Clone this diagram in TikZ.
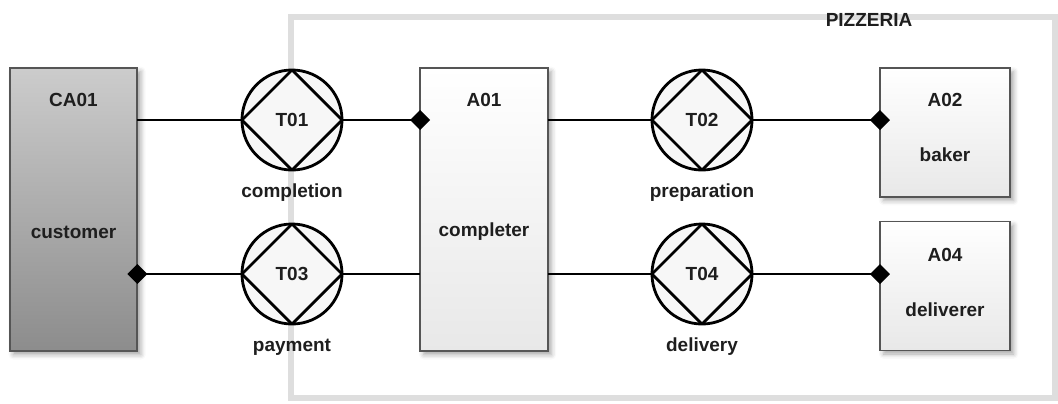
\documentclass[tikz,border=0pt]{standalone}
\usepackage{fontspec}
\setmainfont{Liberation Sans}
\usepackage{tikz}
\usetikzlibrary{arrows.meta,shadows.blur}
\definecolor{boundary}{RGB}{222,222,222}
\definecolor{edge}{RGB}{85,85,85}
\definecolor{ink}{RGB}{30,30,30}

\begin{document}
\begin{tikzpicture}[x=0.025cm, y=-0.025cm,
    font=\fontsize{13.5}{15}\selectfont\bfseries, text=ink,
    actor/.style={draw=edge, line width=1.2pt, inner sep=0pt, outer sep=0pt,
        top color=white, bottom color=black!9,
        blur shadow={shadow xshift=0.09cm, shadow yshift=-0.09cm, shadow blur radius=0.12cm, shadow opacity=35}},
    composite/.style={actor, top color=black!20, bottom color=black!45},
    tall/.style={minimum width=3.19cm, minimum height=7.08cm},
    small/.style={minimum width=3.25cm, minimum height=3.22cm},
    trans/.style={circle, draw=black, line width=2pt, fill=black!3, minimum size=2.5cm,
        inner sep=0pt, outer sep=0pt,
        path picture={\draw[line width=2pt]
            (path picture bounding box.north) -- (path picture bounding box.east) --
            (path picture bounding box.south) -- (path picture bounding box.west) -- cycle;}},
    tlabel/.style={label={[anchor=center, yshift=-0.575cm]south:#1}},
    conn/.style={line width=1.9pt, black},
    end/.style={-{Diamond[length=0.5cm, width=0.5cm]}, shorten >=-0.25cm},
    start/.style={{Diamond[length=0.5cm, width=0.5cm]}-, shorten <=-0.25cm}]

    \useasboundingbox (0,0) rectangle (1058,403);

    % system boundary
    \draw[boundary, line width=0.13cm] (291,17) rectangle (1055,398);
    \node (pizzeria) at (869,20) {PIZZERIA};

    % actors
    \node[composite, tall, label={[anchor=center, yshift=-0.8cm]north:CA01}] (CA01) at (73.5,209.5) {};
    \node at ([yshift=-4.1cm]CA01.north) {customer};
    \node[actor, tall, label={[anchor=center, yshift=-0.8cm]north:A01}] (A01) at (484,209.5) {};
    \node at ([yshift=-4.1cm]A01.north) {completer};
    \node[actor, small, label={[anchor=center, yshift=-0.8cm]north:A02}] (A02) at (945,132.5) {};
    \node at ([yshift=-2.175cm]A02.north) {baker};
    \node[actor, small, label={[anchor=center, yshift=-0.825cm]north:A04}] (A04) at (945,286) {};
    \node at ([yshift=-2.2cm]A04.north) {deliverer};

    % transactions
    \node[trans, tlabel=completion] (T01) at (292,120) {T01};
    \node[trans, tlabel=payment] (T03) at (292,274) {T03};
    \node[trans, tlabel=preparation] (T02) at (702,120) {T02};
    \node[trans, tlabel=delivery] (T04) at (702,274) {T04};

    % links
    \draw[conn] (T01.west -| CA01.east) -- (T01.west);
    \draw[conn, end] (T01.east) -- (T01.east -| A01.west);
    \draw[conn, start] (T03.west -| CA01.east) -- (T03.west);
    \draw[conn] (T03.east) -- (T03.east -| A01.west);
    \draw[conn] (T02.west -| A01.east) -- (T02.west);
    \draw[conn, end] (T02.east) -- (T02.east -| A02.west);
    \draw[conn] (T04.west -| A01.east) -- (T04.west);
    \draw[conn, end] (T04.east) -- (T04.east -| A04.west);
\end{tikzpicture}
\end{document}
